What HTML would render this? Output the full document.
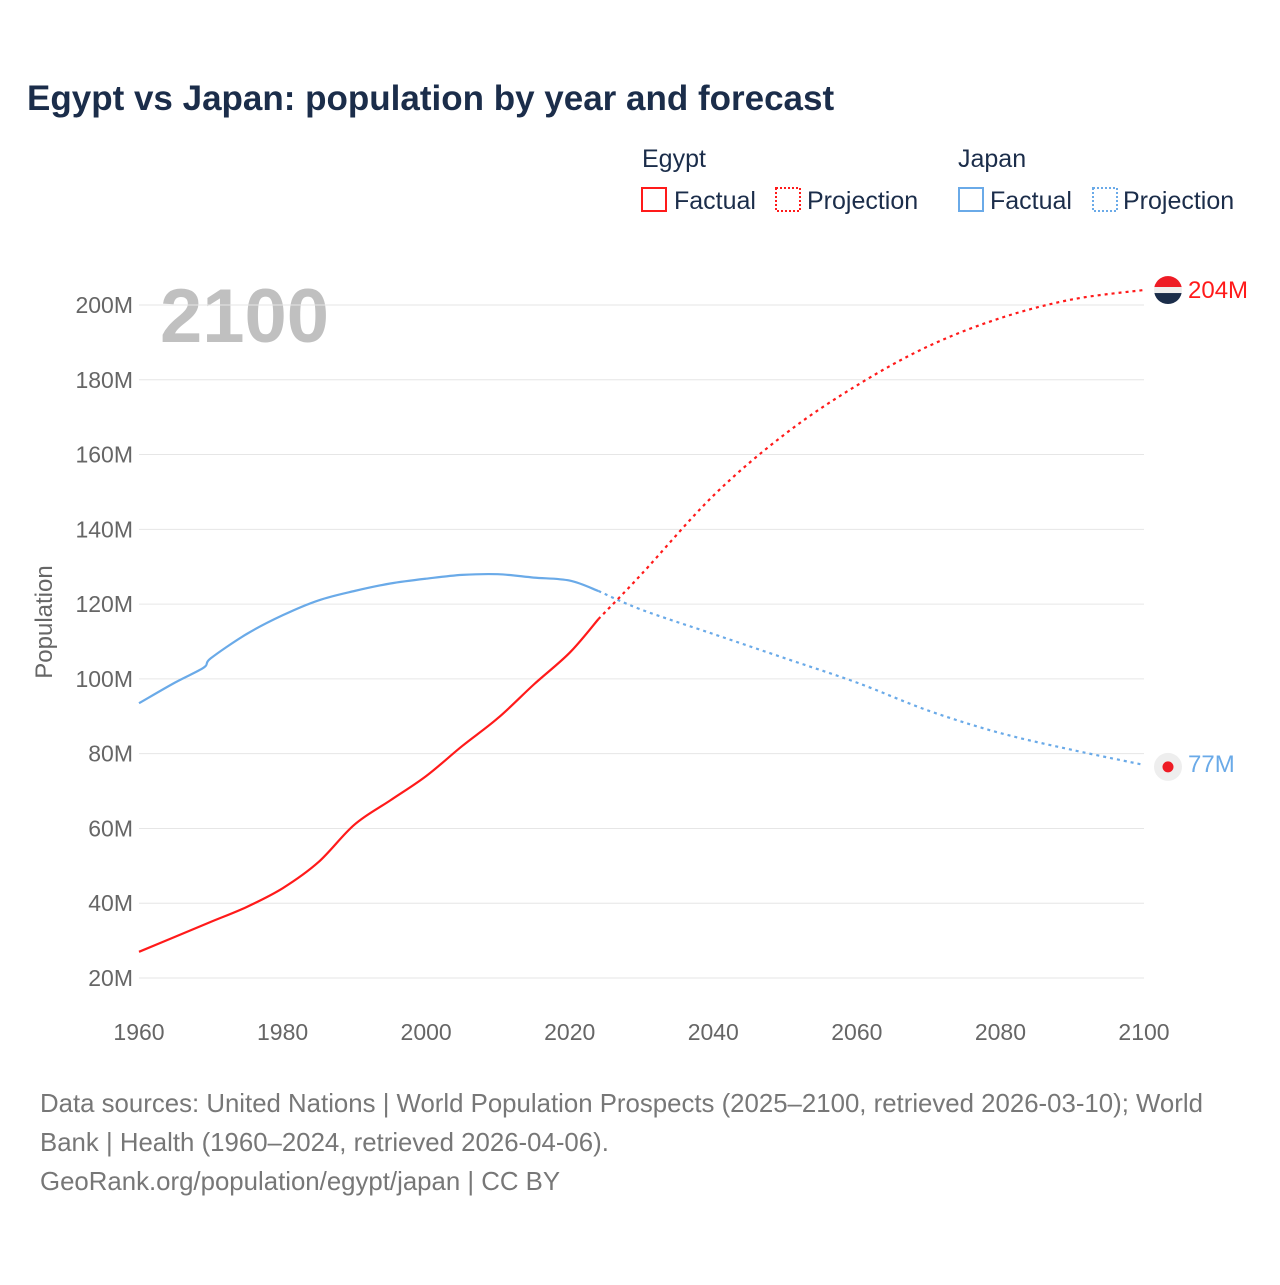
<!DOCTYPE html>
<html><head><meta charset="utf-8"><style>
body{margin:0;background:#fff;font-family:"Liberation Sans",sans-serif}
svg text{font-family:"Liberation Sans",sans-serif}
</style></head><body>
<svg id="c" width="1280" height="1280" viewBox="0 0 1280 1280">
<text x="27" y="110" font-size="35" font-weight="bold" fill="#1b2d4a">Egypt vs Japan: population by year and forecast</text>
<g font-size="25" fill="#1b2d4a">
<text x="642" y="167">Egypt</text>
<text x="958" y="167">Japan</text>
<rect x="642" y="188" width="24" height="23" fill="none" stroke="#ff1a1a" stroke-width="2"/>
<text x="674" y="209">Factual</text>
<rect x="776" y="188" width="24" height="23" fill="none" stroke="#ff1a1a" stroke-width="2" stroke-dasharray="2,2"/>
<text x="807" y="209">Projection</text>
<rect x="959" y="188" width="24" height="23" fill="none" stroke="#6aaae8" stroke-width="2"/>
<text x="990" y="209">Factual</text>
<rect x="1093" y="188" width="24" height="23" fill="none" stroke="#6aaae8" stroke-width="2" stroke-dasharray="2,2"/>
<text x="1123" y="209">Projection</text>
</g>
<text x="160" y="342" font-size="76" font-weight="bold" fill="#c0c0c0">2100</text>
<text transform="translate(52,622) rotate(-90)" text-anchor="middle" font-size="24" fill="#666">Population</text>
<g id="grid"></g><g id="lines"></g>
<g font-size="25.8" fill="#777">
<text x="40" y="1112">Data sources: United Nations | World Population Prospects (2025–2100, retrieved 2026-03-10); World</text>
<text x="40" y="1151">Bank | Health (1960–2024, retrieved 2026-04-06).</text>
<text x="40" y="1190">GeoRank.org/population/egypt/japan | CC BY</text>
</g>
</svg>
<script>
const yTicks=[20,40,60,80,100,120,140,160,180,200];
const xTicks=[1960,1980,2000,2020,2040,2060,2080,2100];
const egyptYears=[1960,1965,1970,1975,1980,1985,1990,1995,2000,2005,2010,2015,2020,2024];
const egyptVals=[27,31,35,39,44,51,61,67.5,74,82,89.5,98.5,107,116];
const egyptProjYears=[2024,2030,2040,2050,2060,2070,2080,2090,2100];
const egyptProjVals=[116,128,149,165.5,178.5,189,196.5,201.5,204];
const japanYears=[1960,1965,1969,1970,1975,1980,1985,1990,1995,2000,2005,2010,2015,2020,2024];
const japanVals=[93.5,99,103,105.5,112,117,121,123.5,125.5,126.8,127.8,128,127.1,126.3,123.5];
const japanProjYears=[2024,2030,2040,2050,2060,2070,2080,2090,2100];
const japanProjVals=[123.5,118.5,112,105.5,99,91.5,85.5,81,77];
const NS="http://www.w3.org/2000/svg";
const X=y=>139+(y-1960)*(1005/140), Y=v=>978-(v-20)*(673/180);
const grid=document.getElementById('grid'), lines=document.getElementById('lines');
function mk(t,a,p){const e=document.createElementNS(NS,t);for(const k in a)e.setAttribute(k,a[k]);p.appendChild(e);return e;}
yTicks.forEach(v=>{
 const l=mk('line',{x1:139,x2:1144,y1:Y(v),y2:Y(v),stroke:'#e6e6e6','stroke-width':1},grid);
 
 
 const t=mk('text',{x:133,y:Y(v)+8,'text-anchor':'end','font-size':23,fill:'#666'},grid);
 t.textContent=v+'M';
 
 
});
xTicks.forEach(v=>{
 const t=mk('text',{x:X(v),y:1040,'text-anchor':'middle','font-size':23,fill:'#666'},grid);
 t.textContent=v;
 
 
});
function line(xs,vs,col,dash,name){
 const P=xs.map((x,i)=>[X(x),Y(vs[i])]);
 let d='M'+P[0][0].toFixed(1)+','+P[0][1].toFixed(1);
 for(let i=0;i<P.length-1;i++){
  const p0=P[Math.max(i-1,0)],p1=P[i],p2=P[i+1],p3=P[Math.min(i+2,P.length-1)];
  const c1=[p1[0]+(p2[0]-p0[0])/6,p1[1]+(p2[1]-p0[1])/6],c2=[p2[0]-(p3[0]-p1[0])/6,p2[1]-(p3[1]-p1[1])/6];
  d+='C'+c1.map(n=>n.toFixed(1))+' '+c2.map(n=>n.toFixed(1))+' '+p2.map(n=>n.toFixed(1));
 }
 const p=mk('path',{d:d,fill:'none',stroke:col,'stroke-width':2.2,'stroke-dasharray':dash},lines);
 
 
}
line(japanYears,japanVals,'#6aaae8','none','japan-factual-line');
line(japanProjYears,japanProjVals,'#6aaae8','3,4','japan-projection-line');
line(egyptYears,egyptVals,'#ff1a1a','none','egypt-factual-line');
line(egyptProjYears,egyptProjVals,'#ff1a1a','3,4','egypt-projection-line');
const ey=Y(egyptProjVals[egyptProjVals.length-1]), jy=Y(japanProjVals[japanProjVals.length-1]);
const g1=mk('g',{},lines);


const cp=mk('clipPath',{id:'fc'},g1);
mk('circle',{cx:1168,cy:ey,r:14},cp);
mk('rect',{x:1154,y:ey-14,width:28,height:11,fill:'#ee1c25','clip-path':'url(#fc)'},g1);
mk('rect',{x:1154,y:ey-3,width:28,height:6,fill:'#eee','clip-path':'url(#fc)'},g1);
mk('rect',{x:1154,y:ey+3,width:28,height:12,fill:'#1b2d4a','clip-path':'url(#fc)'},g1);
const l1=mk('text',{x:1188,y:ey+8,'font-size':24,fill:'#ff1a1a'},lines);
l1.textContent=egyptProjVals[egyptProjVals.length-1]+'M';


const g2=mk('g',{},lines);


mk('circle',{cx:1168,cy:jy+2,r:14,fill:'#eee'},g2);
mk('circle',{cx:1168,cy:jy+2,r:5.5,fill:'#ee1c25'},g2);
const l2=mk('text',{x:1188,y:jy+7,'font-size':24,fill:'#6aaae8'},lines);
l2.textContent=japanProjVals[japanProjVals.length-1]+'M';


</script>
</body></html>
